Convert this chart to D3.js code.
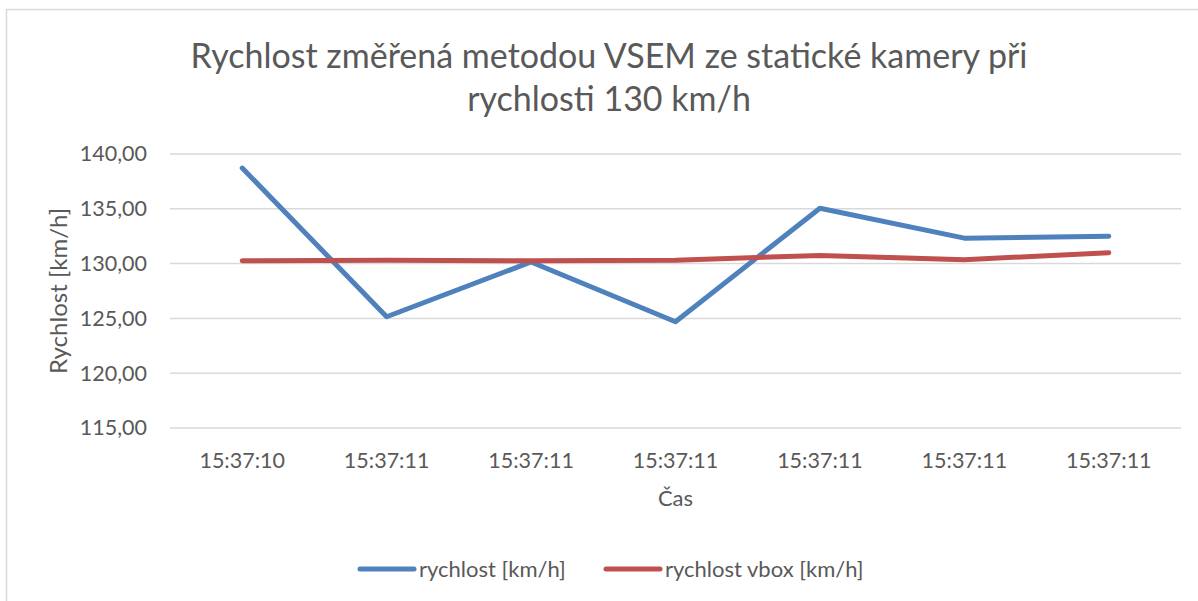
<!DOCTYPE html>
<html>
<head>
<meta charset="utf-8">
<script src="https://cdn.jsdelivr.net/npm/d3@7"></script>
<style>
  body { margin: 0; background: #fff; }
  text { font-family: Lato, "Open Sans", sans-serif; fill: #595959; }
</style>
</head>
<body>
<div id="chart"></div>
<script>
// data
const times = ["15:37:10", "15:37:11", "15:37:11", "15:37:11", "15:37:11", "15:37:11", "15:37:11"];
const rychlost = [138.72, 125.15, 130.15, 124.70, 135.05, 132.32, 132.50];
const rychlostVbox = [130.25, 130.30, 130.25, 130.30, 130.75, 130.35, 131.00];
const yTicks = [115, 120, 125, 130, 135, 140];
const seriesNames = ["rychlost [km/h]", "rychlost vbox [km/h]"];
const colors = ["#4f81bd", "#c0504d"];

const W = 1198, H = 601;
const margin = {top: 154, right: 17, bottom: 173, left: 170};
const width = W - margin.left - margin.right,
      height = H - margin.top - margin.bottom;

const svg = d3.select("#chart").append("svg")
  .attr("width", W).attr("height", H);

// outer chart frame
svg.append("rect")
  .attr("x", 6.5).attr("y", 9.5).attr("width", W + 10).attr("height", H + 10)
  .attr("fill", "none").attr("stroke", "#d9d9d9").attr("stroke-width", 1.5);

// title
const title = svg.append("text").attr("text-anchor", "middle").style("font-size", "34px");
title.append("tspan").attr("x", 609).attr("y", 68).text("Rychlost změřená metodou VSEM ze statické kamery při");
title.append("tspan").attr("x", 609).attr("y", 111).text("rychlosti 130 km/h");

const g = svg.append("g").attr("transform", `translate(${margin.left},${margin.top})`);

const x = d3.scaleBand().domain(d3.range(times.length)).range([0, width]);
const y = d3.scaleLinear().domain([115, 140]).range([height, 0]);

// gridlines
g.selectAll(".grid").data(yTicks).enter().append("line")
  .attr("x1", 0).attr("x2", width)
  .attr("y1", d => y(d)).attr("y2", d => y(d))
  .attr("stroke", "#d9d9d9").attr("stroke-width", 1.5);

// y axis labels
const yAxis = g.append("g")
  .call(d3.axisLeft(y).tickValues(yTicks).tickSize(0).tickPadding(23)
    .tickFormat(d => d3.format(".2f")(d).replace(".", ",")));
yAxis.select(".domain").remove();
yAxis.selectAll("text").style("font-size", "21.5px").style("font-family", "Lato, sans-serif").attr("fill", "#595959");

// x axis labels
const xAxis = g.append("g").attr("transform", `translate(0,${height})`)
  .call(d3.axisBottom(x).tickSize(0).tickPadding(25).tickFormat(i => times[i]));
xAxis.select(".domain").remove();
xAxis.selectAll("text").style("font-size", "21.5px").style("font-family", "Lato, sans-serif").attr("fill", "#595959");

// axis titles
svg.append("text").attr("text-anchor", "middle")
  .attr("x", margin.left + width / 2).attr("y", 506)
  .style("font-size", "22px").text("Čas");
svg.append("text").attr("text-anchor", "middle")
  .attr("transform", `translate(67,${margin.top + height / 2}) rotate(-90)`)
  .style("font-size", "24px").text("Rychlost [km/h]");

// lines
const line = d3.line()
  .x((d, i) => x(i) + x.bandwidth() / 2)
  .y(d => y(d));

[rychlost, rychlostVbox].forEach(function(s, k) {
  g.append("path").datum(s)
    .attr("fill", "none")
    .attr("stroke", colors[k])
    .attr("stroke-width", 5)
    .attr("stroke-linejoin", "round")
    .attr("stroke-linecap", "round")
    .attr("d", line);
});

// legend
const legendX = [360, 606];
seriesNames.forEach(function(name, k) {
  svg.append("line")
    .attr("x1", legendX[k]).attr("x2", legendX[k] + 54)
    .attr("y1", 569).attr("y2", 569)
    .attr("stroke", colors[k]).attr("stroke-width", 5).attr("stroke-linecap", "round");
  svg.append("text")
    .attr("x", legendX[k] + 59).attr("y", 577)
    .style("font-size", "22px").text(name);
});
</script>
</body>
</html>
